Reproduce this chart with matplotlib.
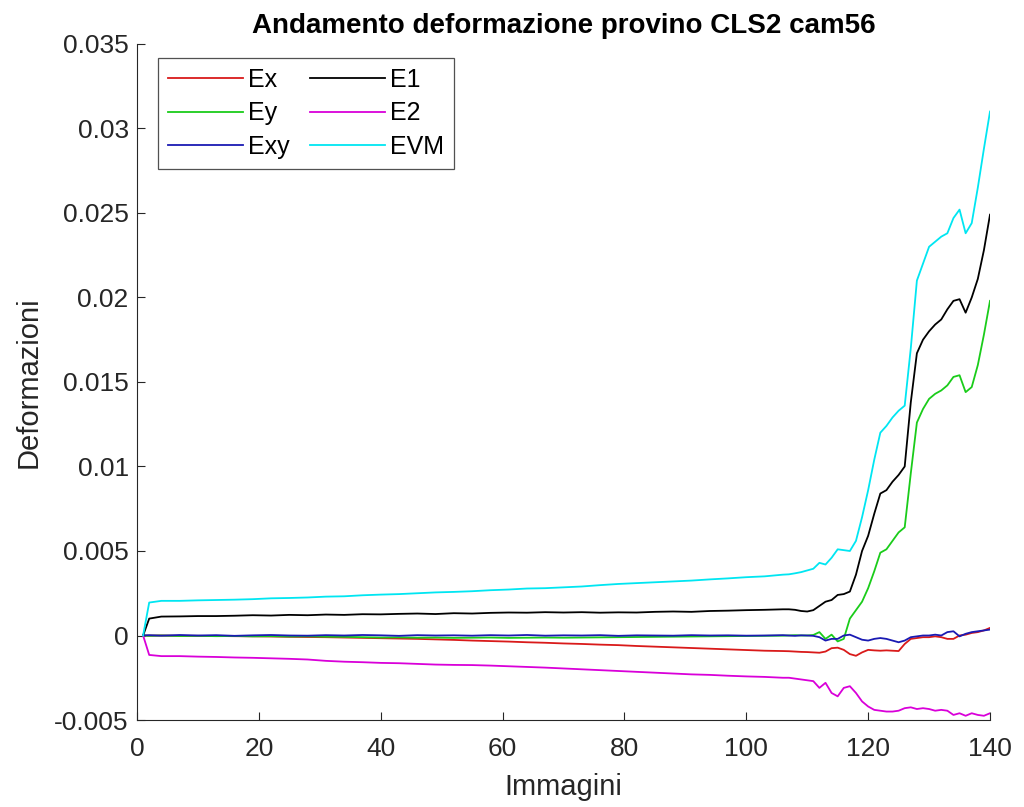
import numpy as np
import matplotlib.pyplot as plt

# image index (denser sampling where the specimen starts to yield)
immagini = [1, 2, 4, 7, 10, 13, 16, 19, 22, 25, 28, 31, 34, 37, 40, 43, 46, 49, 52,
            55, 58, 61, 64, 67, 70, 73, 76, 79, 82, 85, 88, 91, 94, 97, 100, 103, 106,
            107, 108, 109, 110, 111, 112, 113, 114, 115, 116, 117, 118, 119, 120, 121,
            122, 123, 124, 125, 126, 127, 128, 129, 130, 131, 132, 133, 134, 135, 136,
            137, 138, 139, 140]

# strains in 1e-3 units
ex = [0, -0.01, 0.0, -0.02, -0.02, -0.03, -0.04, -0.05, -0.06, -0.08, -0.09, -0.1,
      -0.12, -0.14, -0.16, -0.18, -0.2, -0.23, -0.26, -0.3, -0.33, -0.36, -0.4, -0.43,
      -0.47, -0.5, -0.54, -0.57, -0.62, -0.66, -0.7, -0.74, -0.78, -0.82, -0.86, -0.9,
      -0.92,
      -0.93, -0.95, -0.97, -0.98, -1.0, -1.02, -0.95, -0.75, -0.72, -0.85, -1.1, -1.2,
      -1.0, -0.85, -0.88, -0.9, -0.88, -0.9, -0.92, -0.5, -0.2, -0.15, -0.1, -0.1,
      -0.05, -0.1, -0.2, -0.2, 0.0, 0.05, 0.15, 0.2, 0.3, 0.45]
ey = [0, -0.02, 0.0, -0.03, -0.02, -0.04, -0.03, -0.05, -0.04, -0.06, -0.05, -0.07,
      -0.08, -0.1, -0.12, -0.11, -0.13, -0.12, -0.14, -0.13, -0.12, -0.14, -0.13,
      -0.12, -0.13, -0.12, -0.11, -0.1, -0.09, -0.08, -0.07, -0.06, -0.05, -0.04,
      -0.03, -0.02, -0.01,
      0.0, 0.02, 0.0, 0.0, 0.03, 0.2, -0.2, 0.05, -0.35, -0.2, 1.0, 1.5, 2.0, 2.8, 3.8,
      4.9, 5.1, 5.6, 6.1, 6.4, 9.6, 12.6, 13.4, 14.0, 14.3, 14.5, 14.8, 15.3, 15.4,
      14.4, 14.7, 16.0, 17.8, 19.8]
exy = [0, 0.02, -0.01, 0.03, 0.0, 0.02, -0.02, 0.01, 0.03, 0.0, -0.01, 0.02, 0.0,
       0.03, 0.01, -0.02, 0.02, 0.0, 0.01, -0.01, 0.02, 0.0, 0.03, -0.01, 0.01, 0.0,
       0.02, -0.02, 0.01, 0.0, -0.01, 0.02, 0.0, 0.01, -0.01, 0.0, 0.02,
       0.0, -0.02, 0.01, 0.0, -0.02, -0.1, -0.3, -0.2, -0.2, 0.0, 0.05, -0.1, -0.25,
       -0.3, -0.2, -0.15, -0.2, -0.3, -0.4, -0.3, -0.1, -0.05, 0.0, 0.0, 0.05, 0.0,
       0.2, 0.25, -0.05, 0.1, 0.2, 0.25, 0.3, 0.35]
e1 = [0, 1.0, 1.12, 1.13, 1.15, 1.15, 1.17, 1.2, 1.18, 1.22, 1.2, 1.24, 1.22, 1.26,
      1.25, 1.28, 1.3, 1.27, 1.32, 1.3, 1.34, 1.36, 1.35, 1.38, 1.36, 1.38, 1.35, 1.37,
      1.36, 1.4, 1.42, 1.4, 1.45, 1.47, 1.5, 1.52, 1.55,
      1.55, 1.52, 1.45, 1.42, 1.5, 1.75, 2.0, 2.1, 2.4, 2.45, 2.6, 3.6, 5.0, 5.9, 7.2,
      8.4, 8.6, 9.1, 9.5, 10.0, 13.8, 16.7, 17.5, 18.0, 18.4, 18.7, 19.3, 19.8, 19.9,
      19.1, 20.0, 21.1, 22.8, 24.9]
e2 = [0, -1.15, -1.22, -1.22, -1.25, -1.27, -1.3, -1.32, -1.35, -1.38, -1.42, -1.5,
      -1.55, -1.58, -1.62, -1.64, -1.68, -1.72, -1.74, -1.75, -1.78, -1.82, -1.86,
      -1.9, -1.95, -2.0, -2.05, -2.1, -2.15, -2.2, -2.25, -2.3, -2.33, -2.38, -2.42,
      -2.45, -2.5,
      -2.5, -2.55, -2.6, -2.65, -2.7, -3.1, -2.8, -3.4, -3.6, -3.1, -3.0, -3.4, -3.9,
      -4.2, -4.4, -4.45, -4.5, -4.5, -4.45, -4.3, -4.25, -4.35, -4.3, -4.35, -4.45,
      -4.4, -4.45, -4.7, -4.6, -4.75, -4.6, -4.7, -4.75, -4.6]
evm = [0, 1.95, 2.05, 2.05, 2.08, 2.1, 2.12, 2.15, 2.2, 2.22, 2.25, 2.3, 2.32, 2.38,
       2.42, 2.45, 2.5, 2.55, 2.58, 2.62, 2.68, 2.72, 2.78, 2.8, 2.85, 2.9, 2.98, 3.05,
       3.1, 3.15, 3.2, 3.25, 3.32, 3.38, 3.45, 3.5, 3.6,
       3.62, 3.68, 3.75, 3.85, 3.95, 4.3, 4.2, 4.6, 5.1, 5.05, 5.0, 5.6, 7.0, 8.6, 10.4,
       12.0, 12.4, 12.9, 13.3, 13.6, 17.0, 21.0, 22.0, 23.0, 23.3, 23.6, 23.8, 24.7,
       25.2, 23.8, 24.4, 26.5, 28.8, 31.0]

series = {'Ex': (ex, (0.85, 0.1, 0.1)),
          'Ey': (ey, (0.1, 0.8, 0.1)),
          'Exy': (exy, (0.1, 0.1, 0.7)),
          'E1': (e1, 'k'),
          'E2': (e2, (0.85, 0.0, 0.85)),
          'EVM': (evm, (0.0, 0.9, 0.95))}

plt.rcParams['font.family'] = ['Liberation Sans', 'DejaVu Sans']

fig = plt.figure(figsize=(10.24, 8.07), dpi=100)
ax = fig.add_axes([0.1338, 0.1078, 0.833, 0.8377])

x = np.array(immagini)
for name, (vals, col) in series.items():
    ax.plot(x, np.array(vals) * 1e-3, color=col, lw=1.3, label=name)

ax.set_xlim(0, 140)
ax.set_ylim(-0.005, 0.035)
ax.set_xticks(np.arange(0, 141, 20))
ax.set_yticks(np.arange(-0.005, 0.0351, 0.005))
ax.set_yticklabels(['-0.005', '0', '0.005', '0.01', '0.015', '0.02', '0.025', '0.03', '0.035'])

grey = (0.15, 0.15, 0.15)
for side in ['top', 'right']:
    ax.spines[side].set_visible(False)
for side in ['left', 'bottom']:
    ax.spines[side].set_color(grey)
ax.tick_params(direction='in', length=6, labelsize=19, colors=grey)
ax.tick_params(axis='y', pad=6)
ax.tick_params(axis='x', pad=12)

ax.set_xlabel('Immagini', fontsize=21, color=grey, labelpad=9)
ax.set_ylabel('Deformazioni', fontsize=21, color=grey, labelpad=8)
ax.set_title('Andamento deformazione provino CLS2 cam56', fontsize=20,
             fontweight='bold', pad=8)

leg = ax.legend(ncol=2, loc='upper left', bbox_to_anchor=(0.019, 0.987),
                fontsize=18, fancybox=False, handlelength=3.0, columnspacing=0.8,
                handletextpad=0.2, borderaxespad=0.2, labelspacing=0.38,
                borderpad=0.4)
leg.get_frame().set_edgecolor(grey)
leg.get_frame().set_linewidth(0.9)

fig.savefig('out.png', dpi=100)
